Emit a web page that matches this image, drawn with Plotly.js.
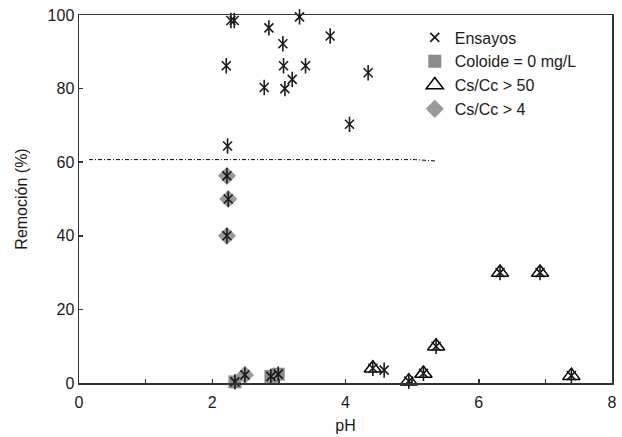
<!DOCTYPE html>
<html>
<head>
<meta charset="utf-8">
<script src="https://cdn.plot.ly/plotly-3.0.1.min.js"></script>
<style>html,body{margin:0;padding:0;background:#fff;}#chart{width:622px;height:437px;}</style>
</head>
<body>
<div id="chart"></div>
<script>
// Ensayos (all trials)
var ensayosPH = [2.28, 2.33, 3.31, 2.85, 3.77, 3.06, 2.21, 3.07, 3.40, 4.34, 3.20, 2.78, 3.09, 4.06, 2.23, 2.22, 2.24, 2.22, 2.34, 2.49, 2.88, 2.99, 4.41, 4.58, 4.95, 5.17, 5.36, 6.32, 6.92, 7.39];
var ensayosRem = [98.5, 98.5, 99.5, 96.5, 94.3, 92.2, 86.2, 86.2, 86.2, 84.3, 82.5, 80.3, 80.0, 70.3, 64.4, 56.3, 50.0, 40.0, 0.3, 2.2, 1.8, 2.4, 4.0, 3.5, 0.5, 2.6, 10.0, 30.0, 30.0, 2.0];
// Coloide = 0 mg/L
var coloidePH = [2.34, 2.88, 2.99];
var coloideRem = [0.3, 1.8, 2.4];
// Cs/Cc > 50
var cs50PH = [4.41, 4.95, 5.17, 5.36, 6.32, 6.92, 7.39];
var cs50Rem = [4.0, 0.5, 2.6, 10.0, 30.0, 30.0, 2.0];
// Cs/Cc > 4
var cs4PH = [2.22, 2.24, 2.22, 2.49];
var cs4Rem = [56.3, 50.0, 40.0, 2.2];
// dash-dot reference line
var refPH = [0.15, 5.05, 5.37];
var refRem = [60.7, 60.7, 60.3];

var FONT = 'Liberation Sans, Arial, sans-serif';
var FS = 16;
var traces = [
  {x: refPH, y: refRem, mode: 'lines', showlegend: false, hoverinfo: 'skip',
   line: {color: '#000', width: 1, dash: '4px,2px,1px,2px'}},
  {x: coloidePH, y: coloideRem, mode: 'markers', name: 'Coloide = 0 mg/L', legendrank: 2, cliponaxis: false,
   marker: {symbol: 'square', size: 13, color: '#8c8c8c'}},
  {x: cs50PH, y: cs50Rem, mode: 'markers', name: 'Cs/Cc > 50', legendrank: 3, cliponaxis: false,
   marker: {symbol: 'triangle-up-open', size: 15, color: '#000', line: {width: 1.5, color: '#000'}}},
  {x: cs4PH, y: cs4Rem, mode: 'markers', name: 'Cs/Cc > 4', legendrank: 4, cliponaxis: false,
   marker: {symbol: 'diamond', size: 14, color: '#9a9a9a'}},
  {x: ensayosPH, y: ensayosRem, mode: 'markers', name: 'Ensayos', legendrank: 1, cliponaxis: false,
   marker: {symbol: 'x-thin-open', size: 9, color: '#1a1a1a', line: {width: 1.6, color: '#1a1a1a'}}},
  {x: ensayosPH, y: ensayosRem, mode: 'markers', showlegend: false, cliponaxis: false,
   marker: {symbol: 'line-ns-open', size: 11, color: '#1a1a1a', line: {width: 1.6, color: '#1a1a1a'}}}
];

var axisCommon = {
  showgrid: false, zeroline: false, showline: true, mirror: true,
  linecolor: '#333', linewidth: 1.5, ticks: 'inside', ticklen: 4, tickcolor: '#333', tickwidth: 1.5,
  tickfont: {family: FONT, size: FS, color: '#1a1a1a'}
};

var layout = {
  width: 622, height: 437,
  margin: {l: 79, r: 10, t: 15, b: 54},
  paper_bgcolor: '#fff', plot_bgcolor: '#fff',
  font: {family: FONT, size: FS, color: '#1a1a1a'},
  xaxis: Object.assign({}, axisCommon, {
    range: [0, 8], dtick: 2, tick0: 0, ticklabelstandoff: 4,
    minor: {dtick: 1, ticks: 'inside', ticklen: 4, tickcolor: '#333', tickwidth: 1.5, showgrid: false},
    title: {text: 'pH', font: {family: FONT, size: FS, color: '#1a1a1a'}, standoff: 10}
  }),
  yaxis: Object.assign({}, axisCommon, {
    range: [0, 100], dtick: 20, tick0: 0,
    title: {text: 'Remoción (%)', font: {family: FONT, size: FS, color: '#1a1a1a'}, standoff: 16}
  }),
  legend: {x: 0.63, y: 0.985, xanchor: 'left', yanchor: 'top', bgcolor: 'rgba(0,0,0,0)',
    font: {family: FONT, size: FS, color: '#1a1a1a'}, itemwidth: 30, tracegroupgap: 0},
  showlegend: true
};

Plotly.newPlot('chart', traces, layout, {staticPlot: true, displayModeBar: false});
</script>
</body>
</html>
